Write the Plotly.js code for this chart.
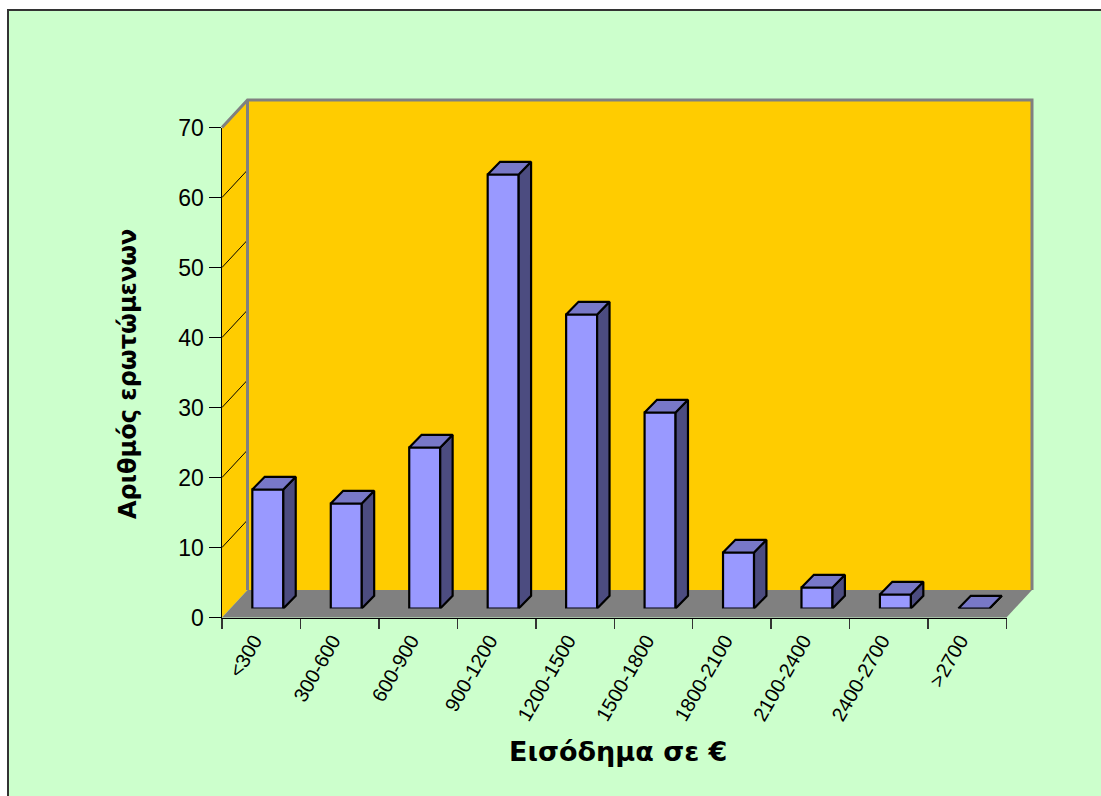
<!DOCTYPE html>
<html>
<head>
<meta charset="utf-8">
<script src="https://cdn.plot.ly/plotly-3.0.1.min.js"></script>
<style>
  html, body { margin: 0; padding: 0; background: #ffffff; }
  #chart { width: 1101px; height: 796px; }
</style>
</head>
<body>
<div id="chart"></div>
<script>
// Income brackets (€) and number of respondents in each
const categories = ['<300', '300-600', '600-900', '900-1200', '1200-1500',
                    '1500-1800', '1800-2100', '2100-2400', '2400-2700', '>2700'];
const respondents = [17, 15, 23, 62, 42, 28, 8, 3, 2, 0];
const yTicks = [0, 10, 20, 30, 40, 50, 60, 70];
const yTitle = 'Αριθμός ερωτώμενων';
const xTitle = 'Εισόδημα σε €';

// ---- page / oblique-projection geometry (pixels) ----
const W = 1101, H = 796;
const FX0 = 222, FX1 = 1006.5;      // front plane, left/right
const FY0 = 617.5, FYT = 127.5;     // front plane, value 0 / top value
const WALL_DX = 25.5, WALL_DY = 27.5; // back wall offset
const BAR_DX = 6.6, BAR_DY = 9;       // bar front-face offset
const DEPTH_DX = 12.4, DEPTH_DY = 12.7; // bar depth
const BAR_PX = 31;                    // bar width

const yMax = yTicks[yTicks.length - 1];
const nCat = categories.length;
const pxPerCat = (FX1 - FX0) / nCat;
const pxPerUnit = (FY0 - FYT) / yMax;

const px = x => x / W;
const py = y => 1 - y / H;
const P = (x, y) => px(x) + ',' + py(y);
const domX = dx => [px(FX0 + dx), px(FX1 + dx)];
const domY = dy => [py(FY0 - dy), py(FYT - dy)];

const idx = categories.map((_, i) => i);
const boundaries = categories.map((_, i) => i - 0.5).concat([nCat - 0.5]);

// colours
const GREEN = '#CCFFCC', GOLD = '#FFCC00', FLOOR = '#808080', EDGE = '#808080';
const FRONT = '#9999FF', TOP = '#7878C8', SIDE = '#4C4C80';
const TITLE_FONT = 'DejaVu Sans, Verdana, sans-serif';

// ---- bar faces, in the bar subplot's data units ----
const bw = BAR_PX / pxPerCat;
const ddx = DEPTH_DX / pxPerCat;
const ddy = DEPTH_DY / pxPerUnit;

const topX = [], topY = [], sideX = [], sideY = [];
respondents.forEach((v, i) => {
  const xl = i - bw / 2, xr = i + bw / 2;
  topX.push(xl, xr, xr + ddx, xl + ddx, xl, null);
  topY.push(v, v, v + ddy, v + ddy, v, null);
  sideX.push(xr, xr + ddx, xr + ddx, xr, xr, null);
  sideY.push(0, ddy, v + ddy, v, 0, null);
});

const traces = [
  {
    type: 'bar', x: idx, y: respondents, width: bw,
    xaxis: 'x3', yaxis: 'y3', cliponaxis: false,
    marker: { color: FRONT, line: { color: '#000', width: 2.2 } },
    hoverinfo: 'skip'
  },
  {
    type: 'scatter', mode: 'lines', x: sideX, y: sideY,
    xaxis: 'x3', yaxis: 'y3', fill: 'toself', fillcolor: SIDE,
    line: { color: '#000', width: 2.2 }, cliponaxis: false, hoverinfo: 'skip'
  },
  {
    type: 'scatter', mode: 'lines', x: topX, y: topY,
    xaxis: 'x3', yaxis: 'y3', fill: 'toself', fillcolor: TOP,
    line: { color: '#000', width: 2.2 }, cliponaxis: false, hoverinfo: 'skip'
  }
];

// ---- walls and floor ----
const shapes = [
  // chart area with its border
  { type: 'rect', xref: 'paper', yref: 'paper', layer: 'below',
    x0: px(8), x1: 1.02, y0: -0.02, y1: py(10),
    fillcolor: GREEN, line: { color: '#333', width: 2 } },
  // side wall
  { type: 'path', xref: 'paper', yref: 'paper', layer: 'below',
    path: 'M' + P(FX0, FY0) + 'L' + P(FX0, FYT) + 'L' + P(FX0 + WALL_DX, FYT - WALL_DY) +
          'L' + P(FX0 + WALL_DX, FY0 - WALL_DY) + 'Z',
    fillcolor: GOLD, line: { width: 0 } },
  // back wall
  { type: 'rect', xref: 'paper', yref: 'paper', layer: 'below',
    x0: px(FX0 + WALL_DX), x1: px(FX1 + WALL_DX),
    y0: py(FY0 - WALL_DY), y1: py(FYT - WALL_DY),
    fillcolor: GOLD, line: { width: 0 } }
];

// gridlines on the side wall
yTicks.filter(v => v > 0 && v < yMax).forEach(v => {
  shapes.push({ type: 'line', xref: 'paper', yref: 'y2', layer: 'below',
    x0: px(FX0), x1: px(FX0 + WALL_DX), y0: v, y1: v + WALL_DY / pxPerUnit,
    line: { color: '#000', width: 1 } });
});

shapes.push(
  // wall edges
  { type: 'path', xref: 'paper', yref: 'paper', layer: 'below',
    path: 'M' + P(FX0, FYT) + 'L' + P(FX0 + WALL_DX, FYT - WALL_DY) +
          'L' + P(FX1 + WALL_DX, FYT - WALL_DY) + 'L' + P(FX1 + WALL_DX, FY0 - WALL_DY),
    line: { color: EDGE, width: 3 } },
  { type: 'line', xref: 'paper', yref: 'paper', layer: 'below',
    x0: px(FX0 + WALL_DX), x1: px(FX0 + WALL_DX),
    y0: py(FYT - WALL_DY), y1: py(FY0 - WALL_DY),
    line: { color: EDGE, width: 3 } },
  // floor
  { type: 'path', xref: 'paper', yref: 'paper', layer: 'below',
    path: 'M' + P(FX0, FY0) + 'L' + P(FX1, FY0) + 'L' + P(FX1 + WALL_DX, FY0 - WALL_DY) +
          'L' + P(FX0 + WALL_DX, FY0 - WALL_DY) + 'Z',
    fillcolor: FLOOR, line: { width: 0 } }
);

const layout = {
  width: W, height: H,
  margin: { l: 0, r: 0, t: 0, b: 0 },
  paper_bgcolor: '#ffffff',
  plot_bgcolor: 'rgba(0,0,0,0)',
  showlegend: false,
  hovermode: false,
  font: { family: 'Liberation Sans, Arial, sans-serif', color: '#000' },

  // back wall: carries the horizontal gridlines
  xaxis: { domain: domX(WALL_DX), range: [-0.5, nCat - 0.5], anchor: 'y',
           showgrid: false, zeroline: false, showticklabels: false, ticks: '',
           showline: false, fixedrange: true },
  yaxis: { domain: domY(WALL_DY), range: [0, yMax], anchor: 'x',
           tickmode: 'array', tickvals: yTicks.filter(v => v > 0 && v < yMax),
           showgrid: true, gridcolor: '#2e2600', gridwidth: 1.6,
           zeroline: false, showticklabels: false, ticks: '', showline: false,
           fixedrange: true },

  // front plane: value and category axes
  xaxis2: { domain: domX(0), range: [-0.5, nCat - 0.5], anchor: 'y2',
            tickmode: 'array', tickvals: idx, ticktext: categories,
            tickangle: -60, ticks: 'outside', ticklen: 2, tickcolor: 'rgba(0,0,0,0)',
            ticklabelshift: -7,
            tickfont: { size: 20, color: '#000' },
            minor: { tickmode: 'array', tickvals: boundaries, ticks: 'outside',
                     ticklen: 10, tickcolor: '#333', tickwidth: 1.5, showgrid: false },
            showgrid: false, zeroline: false, showline: true,
            linecolor: '#000', linewidth: 1.5, fixedrange: true },
  yaxis2: { domain: domY(0), range: [0, yMax], anchor: 'x2',
            tickmode: 'array', tickvals: yTicks,
            ticks: 'outside', ticklen: 12, tickcolor: '#000', tickwidth: 1.2,
            tickfont: { size: 23, color: '#000' },
            showgrid: false, zeroline: false, showline: true,
            linecolor: '#000', linewidth: 1.5, fixedrange: true },

  // bars, set back from the front plane
  xaxis3: { domain: domX(BAR_DX), range: [-0.5, nCat - 0.5], anchor: 'y3',
            visible: false, fixedrange: true },
  yaxis3: { domain: domY(BAR_DY), range: [0, yMax], anchor: 'x3',
            visible: false, fixedrange: true },

  shapes: shapes,
  annotations: [
    { text: yTitle, xref: 'paper', yref: 'paper', x: px(128), y: py(374),
      textangle: -90, showarrow: false, xanchor: 'center', yanchor: 'middle',
      font: { family: TITLE_FONT, size: 24, weight: 'bold', color: '#000' } },
    { text: xTitle, xref: 'paper', yref: 'paper', x: px(617.5), y: py(751),
      showarrow: false, xanchor: 'center', yanchor: 'middle',
      font: { family: TITLE_FONT, size: 27, weight: 'bold', color: '#000' } }
  ]
};

Plotly.newPlot('chart', traces, layout, { staticPlot: true, displayModeBar: false });
</script>
</body>
</html>
